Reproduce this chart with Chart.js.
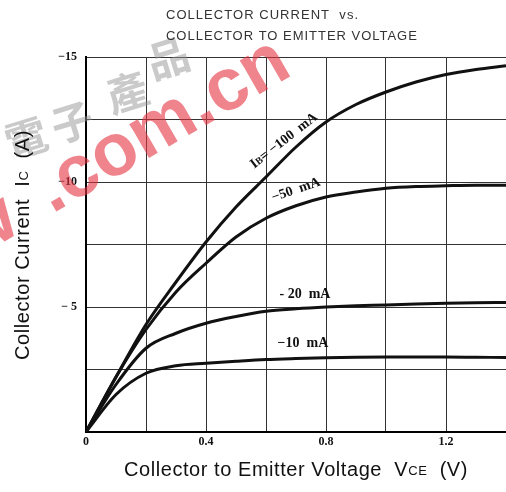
<!DOCTYPE html>
<html>
<head>
<meta charset="utf-8">
<script src="https://cdn.jsdelivr.net/npm/chart.js@4.4.0/dist/chart.umd.min.js"></script>
<style>
  html, body { margin: 0; padding: 0; background: #fff; }
  #wrap { width: 506px; height: 492px; position: relative; }
</style>
</head>
<body>
<div id="wrap"><canvas id="chart" width="506" height="492"></canvas></div>
<script>
// collector-emitter voltage (V), magnitude
var vce = [0, 0.1, 0.2, 0.3, 0.4, 0.5, 0.6, 0.7, 0.8, 0.9, 1.0, 1.1, 1.2, 1.3, 1.4];

// collector current (A) for each base current
var ib100 = [0, 2.2, 4.3, 6.0, 7.6, 9.0, 10.2, 11.4, 12.4, 13.1, 13.6, 14.0, 14.3, 14.5, 14.65];
var ib50  = [0, 2.2, 4.1, 5.6, 6.75, 7.8, 8.55, 9.05, 9.4, 9.6, 9.75, 9.82, 9.85, 9.87, 9.87];
var ib20  = [0, 1.9, 3.35, 3.95, 4.35, 4.62, 4.83, 4.93, 5.0, 5.05, 5.08, 5.12, 5.15, 5.17, 5.18];
var ib10  = [0, 1.5, 2.35, 2.65, 2.75, 2.83, 2.9, 2.94, 2.97, 2.99, 3.0, 3.0, 3.0, 2.99, 2.98];

var xTickLabels = {0: "0", 4: "0.4", 8: "0.8", 12: "1.2"};
var yTickLabels = {5: "\u2212 5", 10: "\u221210", 15: "\u221215"};

var titleLines = ["COLLECTOR CURRENT  vs.", "COLLECTOR TO EMITTER VOLTAGE"];

// curve labels: [main, subscript, rest, x, y, angle deg]
var curveLabels = [
    ["I", "B", "= \u2212100  mA", 0.66, 11.65, -38],
    ["", "", "\u221250  mA", 0.70, 9.68, -19],
    ["", "", "- 20  mA", 0.73, 5.5, 0],
    ["", "", "\u221210  mA", 0.723, 3.56, 0]
];

function pts(ys) {
    return vce.map(function(v, i) { return {x: v, y: ys[i]}; });
}

function line(ys) {
    return {
        data: pts(ys),
        borderColor: "#111",
        borderWidth: 3,
        pointRadius: 0,
        fill: false,
        cubicInterpolationMode: "monotone"
    };
}

// text with a smaller middle part (subscript-like), optional fitted width
function drawSub(ctx, parts, x, y, big, small, align, fitW) {
    ctx.letterSpacing = "0px";
    ctx.font = big;
    var w1 = ctx.measureText(parts[0]).width;
    var w3 = ctx.measureText(parts[2]).width;
    ctx.font = small;
    var w2 = ctx.measureText(parts[1]).width;
    var total = w1 + w2 + w3;
    var ls = 0;
    if (fitW) {
        var n = parts[0].length + parts[1].length + parts[2].length;
        ls = (fitW - total) / n;
        total = fitW;
    }
    var sx = align === "center" ? x - total / 2 : x;
    ctx.letterSpacing = ls.toFixed(2) + "px";
    ctx.textAlign = "left";
    ctx.font = big;
    ctx.fillText(parts[0], sx, y);
    sx += w1 + ls * parts[0].length;
    ctx.font = small;
    ctx.fillText(parts[1], sx, y + 1);
    sx += w2 + ls * parts[1].length;
    ctx.font = big;
    ctx.fillText(parts[2], sx, y);
    ctx.letterSpacing = "0px";
}

var watermark = {
    id: "watermark",
    beforeDatasetsDraw: function(chart) {
        var ctx = chart.ctx;
        ctx.save();
        ctx.fillStyle = "rgba(150,150,150,0.5)";
        ctx.font = "bold 42px 'Noto Sans CJK TC'";
        ctx.textAlign = "center";
        ctx.textBaseline = "middle";
        var chars = [["\u96fb", 26, 138], ["\u5b50", 72, 122], ["\u7522", 127, 92], ["\u54c1", 168, 58]];
        chars.forEach(function(c) {
            ctx.save();
            ctx.translate(c[1], c[2]);
            ctx.rotate(-0.3);
            ctx.fillText(c[0], 0, 0);
            ctx.restore();
        });
        ctx.fillStyle = "rgba(228,50,65,0.6)";
        ctx.font = "bold 74px 'Liberation Sans'";
        ctx.textBaseline = "alphabetic";
        ctx.translate(52, 214);
        ctx.rotate(-30 * Math.PI / 180);
        ctx.textAlign = "left";
        ctx.fillText(".com.cn", 0, 0);
        ctx.textAlign = "right";
        ctx.fillText("w", -34, 0);
        ctx.restore();
    }
};

var decorations = {
    id: "decorations",
    afterDraw: function(chart) {
        var ctx = chart.ctx;
        var xs = chart.scales.x, ys = chart.scales.y;
        ctx.save();
        ctx.fillStyle = "#111";
        ctx.textBaseline = "middle";

        // curve labels
        curveLabels.forEach(function(l) {
            var px = xs.getPixelForValue(l[3]);
            var py = ys.getPixelForValue(l[4]);
            ctx.save();
            ctx.translate(px, py);
            ctx.rotate(l[5] * Math.PI / 180);
            drawSub(ctx, [l[0], l[1], l[2]], 0, 0, "bold 14px 'Liberation Serif'", "bold 10px 'Liberation Serif'", "center");
            ctx.restore();
        });

        // title
        ctx.fillStyle = "#333";
        ctx.font = "13px 'Liberation Sans'";
        ctx.textAlign = "left";
        var targets = [192, 251];
        titleLines.forEach(function(t, i) {
            ctx.letterSpacing = "0px";
            var w = ctx.measureText(t).width;
            var ls = (targets[i] - w) / (t.length - 1);
            ctx.letterSpacing = ls.toFixed(2) + "px";
            ctx.fillText(t, 166, 15 + i * 21);
        });
        ctx.letterSpacing = "0px";

        // axis titles
        ctx.fillStyle = "#111";
        drawSub(ctx, ["Collector to Emitter Voltage  V", "CE", "  (V)"], 296, 470,
            "20px 'Liberation Sans'", "13px 'Liberation Sans'", "center", 344);
        ctx.translate(23, 245);
        ctx.rotate(-Math.PI / 2);
        drawSub(ctx, ["Collector Current  I", "C", "  (A)"], 0, 0,
            "20px 'Liberation Sans'", "13px 'Liberation Sans'", "center", 230);
        ctx.restore();
    }
};

var ctx = document.getElementById("chart").getContext("2d");
new Chart(ctx, {
    type: "line",
    data: {
        datasets: [line(ib100), line(ib50), line(ib20), line(ib10)]
    },
    options: {
        responsive: false,
        animation: false,
        layout: { padding: { top: 57, right: 0, left: 0, bottom: 0 } },
        plugins: {
            legend: { display: false },
            tooltip: { enabled: false }
        },
        scales: {
            x: {
                type: "linear",
                min: 0,
                max: 1.4,
                afterFit: function(s) { s.height = 60; s.paddingRight = 0; s.paddingLeft = 0; },
                ticks: {
                    stepSize: 0.2,
                    maxRotation: 0,
                    autoSkip: false,
                    padding: 3,
                    color: "#111",
                    font: { family: "Liberation Serif", weight: "bold", size: 12 },
                    callback: function(v) {
                        var k = Math.round(v * 10);
                        return xTickLabels[k] !== undefined ? xTickLabels[k] : "";
                    }
                },
                grid: { color: "#333", lineWidth: 1, drawTicks: false },
                border: { color: "#000", width: 2 }
            },
            y: {
                min: 0,
                max: 15,
                afterFit: function(s) { s.width = 86; },
                ticks: {
                    stepSize: 2.5,
                    autoSkip: false,
                    padding: 9,
                    color: "#111",
                    font: { family: "Liberation Serif", weight: "bold", size: 12 },
                    callback: function(v) {
                        return yTickLabels[v] !== undefined ? yTickLabels[v] : "";
                    }
                },
                grid: { color: "#333", lineWidth: 1, drawTicks: false },
                border: { color: "#000", width: 2 }
            }
        }
    },
    plugins: [watermark, decorations]
});
</script>
</body>
</html>
